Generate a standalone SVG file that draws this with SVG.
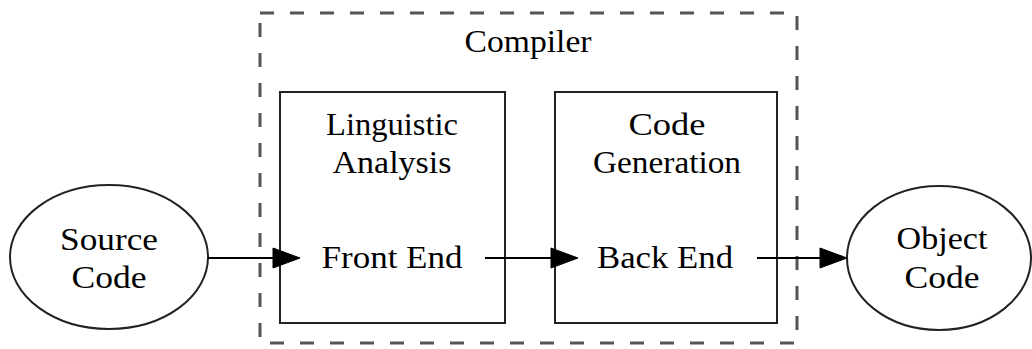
<svg xmlns="http://www.w3.org/2000/svg" width="1032" height="349" viewBox="0 0 1032 349">
  <style>
    text { font-family: "Liberation Serif", "Times New Roman", serif; font-size: 32px; fill: #000; text-anchor: middle; }
    .cluster { fill: none; stroke: #555; stroke-width: 3; stroke-dasharray: 14 16; }
    .box { fill: #fff; stroke: #222; stroke-width: 2; }
    .edge { stroke: #000; stroke-width: 2; fill: none; }
    .head { fill: #000; stroke: #000; stroke-width: 1; }
  </style>
  <rect width="1032" height="349" fill="#fff"/>

  <!-- compiler cluster -->
  <g id="compiler">
    <rect class="cluster" x="260" y="13" width="537" height="330"/>
    <text x="528" y="52" textLength="127" lengthAdjust="spacingAndGlyphs">Compiler</text>
  </g>

  <g id="front_end">
    <rect class="box" x="280" y="92" width="225" height="231"/>
    <text x="392" y="135" textLength="132" lengthAdjust="spacingAndGlyphs">Linguistic</text>
    <text x="392" y="173" textLength="119" lengthAdjust="spacingAndGlyphs">Analysis</text>
    <text x="392" y="268" textLength="141" lengthAdjust="spacingAndGlyphs">Front End</text>
  </g>

  <g id="back_end">
    <rect class="box" x="555" y="92" width="222" height="231"/>
    <text x="667" y="135" textLength="77" lengthAdjust="spacingAndGlyphs">Code</text>
    <text x="667" y="173" textLength="148" lengthAdjust="spacingAndGlyphs">Generation</text>
    <text x="665" y="268" textLength="136" lengthAdjust="spacingAndGlyphs">Back End</text>
  </g>

  <g id="source_code">
    <ellipse class="box" cx="109" cy="257" rx="99" ry="72"/>
    <text x="109" y="250" textLength="98" lengthAdjust="spacingAndGlyphs">Source</text>
    <text x="109" y="288" textLength="75" lengthAdjust="spacingAndGlyphs">Code</text>
  </g>

  <g id="object_code">
    <ellipse class="box" cx="939" cy="258" rx="92" ry="72"/>
    <text x="942" y="249" textLength="91" lengthAdjust="spacingAndGlyphs">Object</text>
    <text x="942" y="288" textLength="75" lengthAdjust="spacingAndGlyphs">Code</text>
  </g>

  <!-- connectors -->
  <g id="edges">
    <line class="edge" x1="208" y1="258" x2="274" y2="258"/>
    <polygon class="head" points="273,248 300,258 273,268"/>
    <line class="edge" x1="485" y1="258" x2="552" y2="258"/>
    <polygon class="head" points="551,248 578,258 551,268"/>
    <line class="edge" x1="757" y1="258" x2="821" y2="258"/>
    <polygon class="head" points="820,248 847,258 820,268"/>
  </g>
</svg>
